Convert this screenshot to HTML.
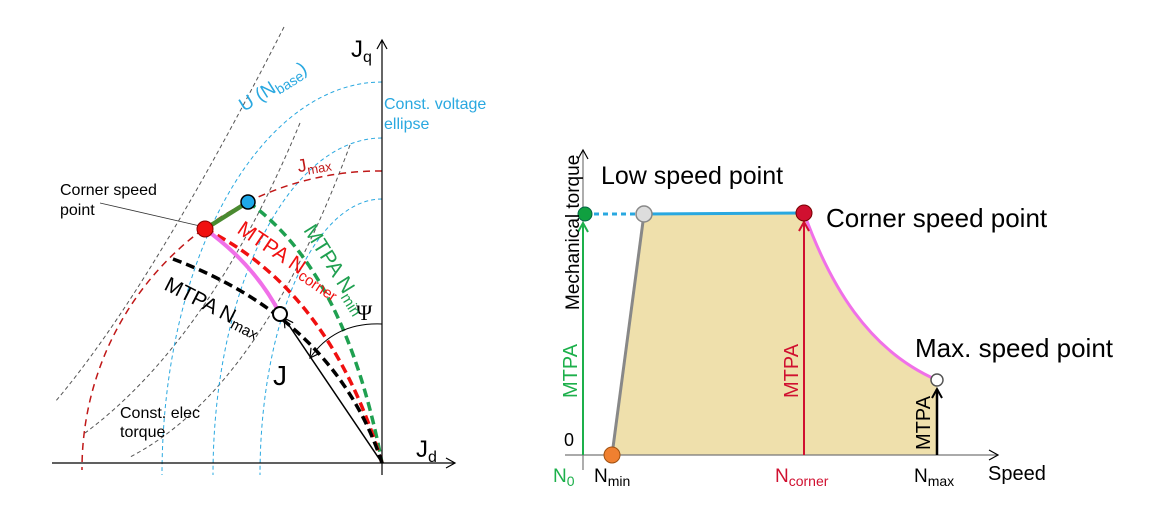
<!DOCTYPE html>
<html><head><meta charset="utf-8"><style>
html,body{margin:0;padding:0;background:#fff;}
svg{display:block;font-family:"Liberation Sans","DejaVu Sans",sans-serif;}
</style></head><body>
<svg width="1157" height="522" viewBox="0 0 1157 522" xmlns="http://www.w3.org/2000/svg">
<defs>
<marker id="ah" markerWidth="12" markerHeight="12" refX="10" refY="6" orient="auto" markerUnits="userSpaceOnUse"><path d="M1,1 L10,6 L1,11" fill="none" stroke="#000" stroke-width="1.2"/></marker>
<marker id="ag" markerWidth="12" markerHeight="12" refX="10" refY="6" orient="auto" markerUnits="userSpaceOnUse"><path d="M1,1 L10,6 L1,11" fill="none" stroke="#1db04b" stroke-width="2"/></marker>
<marker id="ar" markerWidth="12" markerHeight="12" refX="10" refY="6" orient="auto" markerUnits="userSpaceOnUse"><path d="M1,1 L10,6 L1,11" fill="none" stroke="#d01030" stroke-width="2"/></marker>
<marker id="ab" markerWidth="12" markerHeight="12" refX="10" refY="6" orient="auto" markerUnits="userSpaceOnUse"><path d="M1,1 L10,6 L1,11" fill="none" stroke="#000" stroke-width="2"/></marker>
</defs>
<!-- LEFT -->
<g fill="none" stroke-width="1" stroke="#555" stroke-dasharray="4,3">
<path d="M284,27 Q150,290 55,402"/>
<path d="M300,123 Q210,340 85,433"/>
<path d="M350,145 Q260,390 130,457"/>
</g>
<g fill="none" stroke="#29a8e0" stroke-width="1" stroke-dasharray="4,3">
<path d="M382,82 A220,393 0 0 0 162,475"/>
<path d="M382,138 A169,337 0 0 0 213,475"/>
<path d="M382,199 A122,276 0 0 0 260,475"/>
</g>
<path d="M382,171 A298,298 0 0 0 82,470" fill="none" stroke="#c01818" stroke-width="1.5" stroke-dasharray="7,5"/>
<path d="M248,202 Q345,270 382,463" fill="none" stroke="#1fa050" stroke-width="3.5" stroke-dasharray="9,5"/>
<path d="M205,229 Q330,290 382,463" fill="none" stroke="#f01010" stroke-width="3.5" stroke-dasharray="9,5"/>
<path d="M173,259 Q335,320 382,463" fill="none" stroke="#000" stroke-width="3.5" stroke-dasharray="9,5"/>
<path d="M205,229 Q255,265 280,314" fill="none" stroke="#f070e8" stroke-width="4"/>
<path d="M205,229 L248,202" stroke="#4a8a30" stroke-width="4.5"/>
<line x1="52" y1="463" x2="455" y2="463" stroke="#000" stroke-width="1.2" marker-end="url(#ah)"/>
<line x1="382" y1="475" x2="382" y2="40" stroke="#000" stroke-width="1.2" marker-end="url(#ah)"/>
<line x1="382" y1="463" x2="284" y2="318" stroke="#000" stroke-width="1.5" marker-end="url(#ah)"/>
<path d="M382,324 Q335,322 310,358" fill="none" stroke="#000" stroke-width="1" marker-end="url(#ah)"/>
<line x1="100" y1="203" x2="200" y2="226" stroke="#333" stroke-width="0.8"/>
<circle cx="205" cy="229" r="8" fill="#f01010" stroke="#800" stroke-width="1"/>
<circle cx="248" cy="202" r="7" fill="#1ea8e8" stroke="#000" stroke-width="1.5"/>
<circle cx="280" cy="314" r="7" fill="#fff" stroke="#000" stroke-width="2"/>
<text x="351" y="57" font-size="24">J<tspan font-size="16" dy="5">q</tspan></text>
<text x="416" y="457" font-size="24">J<tspan font-size="16" dy="5">d</tspan></text>
<text x="273" y="385" font-size="28">J</text>
<text x="356" y="320" font-size="22" font-family="Liberation Serif,serif">Ψ</text>
<text x="384" y="109" font-size="16" fill="#29a8e0">Const. voltage</text>
<text x="384" y="129" font-size="16" fill="#29a8e0">ellipse</text>
<text font-size="19" fill="#29a8e0" transform="translate(244,112) rotate(-32)">U (N<tspan font-size="14" dy="4">base</tspan><tspan dy="-4">)</tspan></text>
<text x="298" y="172" font-size="18" fill="#c01818" transform="rotate(-10 300 169)">J<tspan font-size="13" dy="4">max</tspan></text>
<text x="60" y="195" font-size="16">Corner speed</text>
<text x="60" y="215" font-size="16">point</text>
<text font-size="21" fill="#f01010" transform="translate(236,232) rotate(34)">MTPA N<tspan font-size="15" dy="4">corner</tspan></text>
<text font-size="21" fill="#1fa050" transform="translate(303,230) rotate(58)">MTPA N<tspan font-size="15" dy="4">min</tspan></text>
<text font-size="21" fill="#000" transform="translate(163,289) rotate(27)">MTPA N<tspan font-size="15" dy="4">max</tspan></text>
<text x="120" y="418" font-size="16">Const. elec</text>
<text x="120" y="437" font-size="16">torque</text>
<!-- RIGHT -->
<path d="M612,455 L644,214 L804,213 C830,285 868,350 937,380 L937,455 Z" fill="#efe0ac"/>
<line x1="565" y1="455" x2="998" y2="455" stroke="#777" stroke-width="1.2" marker-end="url(#ah)"/>
<line x1="583" y1="470" x2="583" y2="150" stroke="#777" stroke-width="1.2" marker-end="url(#ah)"/>
<line x1="612" y1="455" x2="644" y2="214" stroke="#888" stroke-width="3"/>
<line x1="585" y1="214" x2="644" y2="214" stroke="#29a8e0" stroke-width="3" stroke-dasharray="5,4"/>
<line x1="644" y1="214" x2="804" y2="213" stroke="#29a8e0" stroke-width="3"/>
<path d="M804,213 C830,285 868,350 937,380" fill="none" stroke="#f070e8" stroke-width="3"/>
<line x1="583" y1="455" x2="583" y2="223" stroke="#1db04b" stroke-width="2" marker-end="url(#ag)"/>
<line x1="804" y1="455" x2="804" y2="222" stroke="#d01030" stroke-width="2" marker-end="url(#ar)"/>
<line x1="937" y1="455" x2="937" y2="389" stroke="#000" stroke-width="2.5" marker-end="url(#ab)"/>
<circle cx="585" cy="214" r="7" fill="#10a040" stroke="#064" stroke-width="1"/>
<circle cx="644" cy="214" r="8" fill="#ddd" stroke="#888" stroke-width="1.5"/>
<circle cx="804" cy="213" r="8" fill="#d01030" stroke="#700" stroke-width="1"/>
<circle cx="612" cy="455" r="8" fill="#f08030" stroke="#a05010" stroke-width="1"/>
<circle cx="937" cy="380" r="6" fill="#fff" stroke="#555" stroke-width="1.5"/>
<text x="601" y="184" font-size="25">Low speed point</text>
<text x="826" y="227" font-size="26">Corner speed point</text>
<text x="915" y="357" font-size="26">Max. speed point</text>
<text x="988" y="480" font-size="20">Speed</text>
<text x="564" y="446" font-size="18">0</text>
<text font-size="19" transform="translate(579,310) rotate(-90)">Mechanical torque</text>
<text font-size="20" fill="#1db04b" transform="translate(577,398) rotate(-90)">MTPA</text>
<text font-size="20" fill="#d01030" transform="translate(798,398) rotate(-90)">MTPA</text>
<text font-size="20" fill="#000" transform="translate(930,450) rotate(-90)">MTPA</text>
<text x="553" y="482" font-size="19" fill="#1db04b">N<tspan font-size="14" dy="4">0</tspan></text>
<text x="594" y="482" font-size="19">N<tspan font-size="14" dy="4">min</tspan></text>
<text x="775" y="482" font-size="19" fill="#d01030">N<tspan font-size="14" dy="4">corner</tspan></text>
<text x="914" y="482" font-size="19">N<tspan font-size="14" dy="4">max</tspan></text>
</svg>
</body></html>
